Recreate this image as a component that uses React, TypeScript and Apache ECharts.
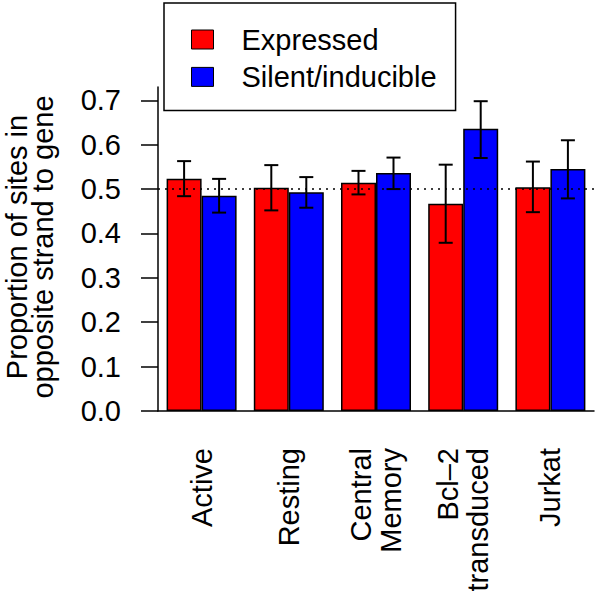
import React, { useEffect, useRef } from "react";
import * as echarts from "echarts";

const categories = ["Active", "Resting", "Central\nMemory", "Bcl–2\ntransduced", "Jurkat"];
const expressed = [0.523, 0.503, 0.514, 0.467, 0.504];
const expressedLow = [0.484, 0.452, 0.488, 0.379, 0.448];
const expressedHigh = [0.563, 0.554, 0.541, 0.555, 0.562];
const silent = [0.485, 0.493, 0.536, 0.636, 0.545];
const silentLow = [0.447, 0.458, 0.5, 0.57, 0.479];
const silentHigh = [0.523, 0.527, 0.571, 0.698, 0.61];
const yTicks = [0, 0.1, 0.2, 0.3, 0.4, 0.5, 0.6, 0.7];
const refLine = 0.5;

const FONT = "Liberation Sans, Arial, Helvetica, sans-serif";

function errData(low: number[], high: number[]) {
  return low.map((l, i) => [i, l, high[i]]);
}

function makeErrRender(offset: number) {
  return (params: any, api: any) => {
    const cat = api.value(0);
    const pLo = api.coord([cat, api.value(1)]);
    const pHi = api.coord([cat, api.value(2)]);
    const x = pLo[0] + offset;
    const style = { stroke: "#000", lineWidth: 2 };
    return {
      type: "group",
      children: [
        { type: "line", shape: { x1: x, y1: pLo[1], x2: x, y2: pHi[1] }, style },
        { type: "line", shape: { x1: x - 7, y1: pLo[1], x2: x + 7, y2: pLo[1] }, style },
        { type: "line", shape: { x1: x - 7, y1: pHi[1], x2: x + 7, y2: pHi[1] }, style },
      ],
    };
  };
}

export default function App() {
  const ref = useRef<HTMLDivElement>(null);
  useEffect(() => {
    document.body.style.margin = "0";
    const chart = echarts.init(ref.current!, null, { renderer: "svg" });
    chart.setOption({
      animation: false,
      backgroundColor: "#fff",
      textStyle: { fontFamily: FONT },
      grid: { left: 158, right: 6, top: 87, bottom: 189, containLabel: false },
      legend: {
        orient: "vertical",
        left: 164,
        top: 3,
        padding: [22, 19, 19, 27],
        itemWidth: 22,
        itemHeight: 19,
        itemGap: 8.4,
        borderColor: "#000",
        borderWidth: 1.5,
        backgroundColor: "#fff",
        icon: "rect",
        itemStyle: { borderColor: "#000", borderWidth: 1 },
        textStyle: { fontSize: 29, color: "#000", fontFamily: FONT, lineHeight: 29, padding: [0, 0, 0, 23] },
        data: ["Expressed", "Silent/inducible"],
      },
      xAxis: {
        type: "category",
        data: categories,
        axisLine: { lineStyle: { color: "#000", width: 1.5 } },
        axisTick: { alignWithLabel: true, length: 18, lineStyle: { color: "#000", width: 1.5 } },
        axisLabel: {
          rotate: 90,
          margin: 37,
          fontSize: 29,
          lineHeight: 30,
          color: "#000",
          fontFamily: FONT,
          interval: 0,
        },
      },
      yAxis: {
        type: "value",
        min: 0,
        max: 0.73,
        interval: 0.1,
        splitLine: { show: false },
        axisLine: { show: true, lineStyle: { color: "#000", width: 1.5 } },
        axisTick: { show: true, length: 17, lineStyle: { color: "#000", width: 1.5 }, customValues: yTicks },
        axisLabel: {
          margin: 37,
          fontSize: 29,
          color: "#000",
          fontFamily: FONT,
          customValues: yTicks,
          formatter: (v: number) => v.toFixed(1),
        },
      },
      series: [
        {
          name: "Expressed",
          type: "bar",
          data: expressed,
          barWidth: 35,
          barGap: "0%",
          itemStyle: { color: "#ff0000", borderColor: "#000", borderWidth: 1.5 },
          markLine: {
            silent: true,
            symbol: "none",
            label: { show: false },
            lineStyle: { color: "#000", width: 1.5, type: [2, 5] },
            data: [{ yAxis: refLine }],
          },
        },
        {
          name: "Silent/inducible",
          type: "bar",
          data: silent,
          barWidth: 35,
          barGap: "0%",
          itemStyle: { color: "#0000ff", borderColor: "#000", borderWidth: 1.5 },
        },
        {
          type: "custom",
          renderItem: makeErrRender(-17.5),
          data: errData(expressedLow, expressedHigh),
          encode: { x: 0, y: [1, 2] },
          z: 5,
        },
        {
          type: "custom",
          renderItem: makeErrRender(17.5),
          data: errData(silentLow, silentHigh),
          encode: { x: 0, y: [1, 2] },
          z: 5,
        },
      ],
      graphic: [
        {
          type: "text",
          x: 17,
          y: 247,
          rotation: Math.PI / 2,
          style: {
            text: "Proportion of sites in",
            fontSize: 29,
            fontFamily: FONT,
            fill: "#000",
            align: "center",
            verticalAlign: "middle",
          },
        },
        {
          type: "text",
          x: 43,
          y: 247,
          rotation: Math.PI / 2,
          style: {
            text: "opposite strand to gene",
            fontSize: 29,
            fontFamily: FONT,
            fill: "#000",
            align: "center",
            verticalAlign: "middle",
          },
        },
      ],
    });
    return () => chart.dispose();
  }, []);
  return <div ref={ref} style={{ position: "fixed", left: 0, top: 0, width: 600, height: 600 }} />;
}
